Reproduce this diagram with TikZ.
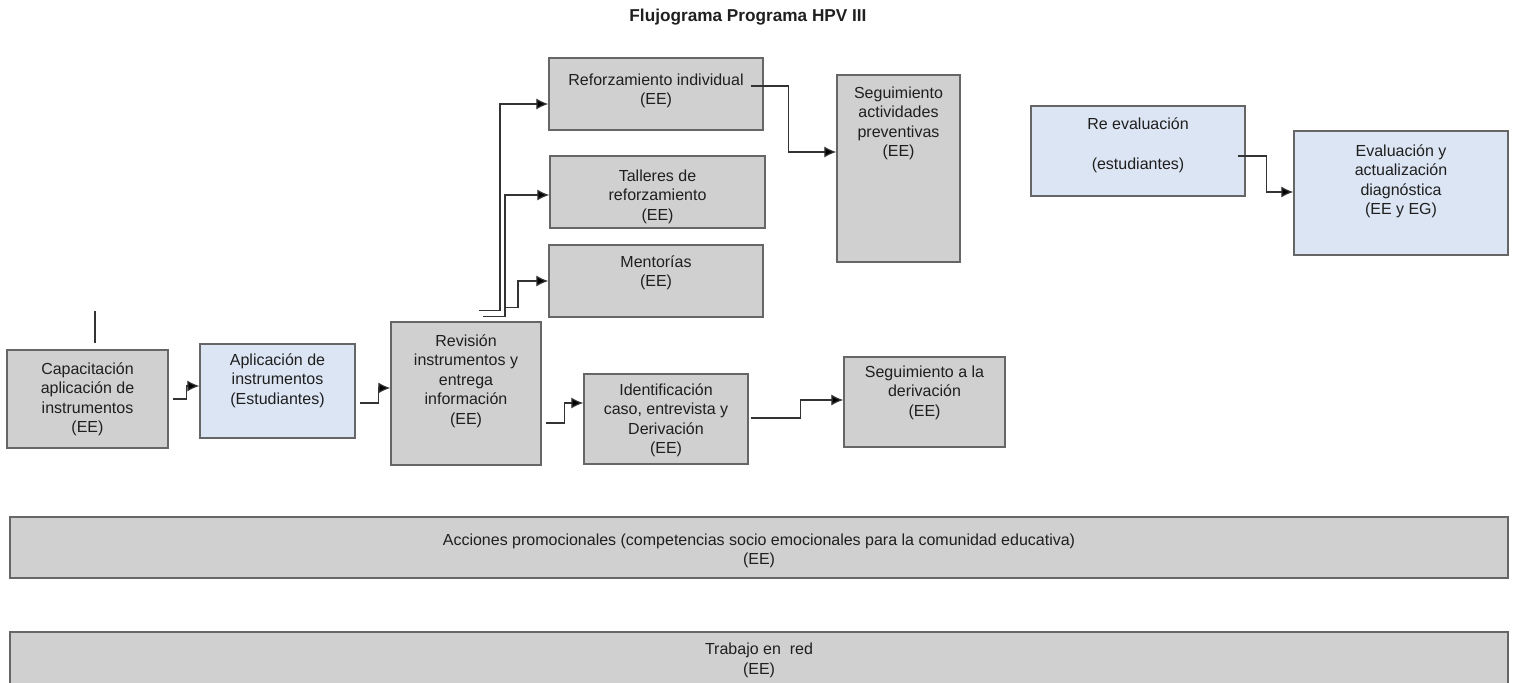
\documentclass[tikz,border=0pt]{standalone}
\usepackage{fontspec}
\setmainfont{Liberation Sans}
\usetikzlibrary{arrows.meta}
\definecolor{boxgray}{HTML}{D0D0D0}
\definecolor{boxblue}{HTML}{DCE5F3}
\definecolor{edgegray}{HTML}{666666}
\definecolor{linegray}{HTML}{333333}

\begin{document}
\begin{tikzpicture}[x=0.5pt,y=-0.5pt,
        gbox/.style={draw=edgegray,line width=0.7pt,fill=boxgray,inner sep=0pt},
        bbox/.style={gbox,fill=boxblue},
        txt/.style={anchor=north,align=center,inner sep=0pt,text=black!88,font=\fontsize{8}{9.75}\selectfont},
        arr/.style={draw=linegray,line width=0.6pt,-{Latex[length=6pt,width=5.5pt,fill=black]}}]
        \useasboundingbox (0,0) rectangle (1515,683);
        \node[font=\bfseries\fontsize{8.6}{10}\selectfont,text=black!88] (title) at (748,17) {Flujograma Programa HPV III};

        \node[gbox,minimum width=80.5pt,minimum height=49pt] (cap) at (87.5,399) {};
        \node[bbox,minimum width=77.5pt,minimum height=47pt] (apl) at (277.5,391) {};
        \node[gbox,minimum width=75pt,minimum height=71.5pt] (rev) at (466,393.5) {};
        \node[gbox,minimum width=107pt,minimum height=36pt] (ref) at (656,94) {};
        \node[gbox,minimum width=107.5pt,minimum height=36pt] (tal) at (657.5,192) {};
        \node[gbox,minimum width=107pt,minimum height=36pt] (men) at (656,281) {};
        \node[gbox,minimum width=61.5pt,minimum height=93.5pt] (segp) at (898.5,168.5) {};
        \node[bbox,minimum width=107pt,minimum height=45pt] (reev) at (1138,151) {};
        \node[bbox,minimum width=107pt,minimum height=62pt] (eval) at (1401,193) {};
        \node[gbox,minimum width=82pt,minimum height=45pt] (ident) at (666,419) {};
        \node[gbox,minimum width=80.5pt,minimum height=45pt] (segd) at (924.5,402) {};
        \node[gbox,minimum width=749pt,minimum height=30.5pt] (acc) at (759,547.5) {};
        \node[gbox,minimum width=749pt,minimum height=34pt] (trab) at (759,666) {};

        \node[txt] (capt) at ([yshift=-6.5pt]cap.north) {Capacitación\\aplicación de\\instrumentos\\(EE)};
        \node[txt] (aplt) at ([yshift=-5pt]apl.north) {Aplicación de\\instrumentos\\(Estudiantes)};
        \node[txt] (revt) at ([yshift=-6.5pt]rev.north) {Revisión\\instrumentos y\\entrega\\información\\(EE)};
        \node[txt] (reft) at ([yshift=-8pt]ref.north) {Reforzamiento individual\\(EE)};
        \node[txt] (talt) at ([yshift=-7pt]tal.north) {Talleres de\\reforzamiento\\(EE)};
        \node[txt] (ment) at ([yshift=-5.5pt]men.north) {Mentorías\\(EE)};
        \node[txt] (segpt) at ([yshift=-6pt]segp.north) {Seguimiento\\actividades\\preventivas\\(EE)};
        \node[txt] (reevt) at ([yshift=-6pt]reev.north) {Re evaluación\\[10.25pt](estudiantes)};
        \node[txt] (evalt) at ([yshift=-7pt]eval.north) {Evaluación y\\actualización\\diagnóstica\\(EE y EG)};
        \node[txt] (identt) at ([yshift=-5pt]ident.north) {Identificación\\caso, entrevista y\\Derivación\\(EE)};
        \node[txt] (segdt) at ([yshift=-4.5pt]segd.north) {Seguimiento a la\\derivación\\(EE)};
        \node[txt] (acct) at ([yshift=-8.5pt]acc.north) {Acciones promocionales (competencias socio emocionales para la comunidad educativa)\\(EE)};
        \node[txt] (trabt) at ([yshift=-5.75pt]trab.north) {Trabajo en~ red\\(EE)};

        \coordinate (capin) at (95,311);
        \draw[draw=linegray,line width=0.6pt] (capin) -- ++(0,32);

        \draw[arr] ([xshift=2pt]cap.east) -- ++(14,0) |- ([yshift=2.5pt]apl.west);
        \draw[arr] ([shift={(2pt,-6pt)}]apl.east) -- ++(19,0) |- ([yshift=2.75pt]rev.west);
        \draw[arr] ([shift={(6.5pt,5.5pt)}]rev.north) -- ++(21,0) |- ([yshift=-5pt]ref.west);
        \draw[arr] ([shift={(8.5pt,2.5pt)}]rev.north) -- ++(22,0) |- ([yshift=-1.5pt]tal.west);
        \draw[arr] ([shift={(19.5pt,7pt)}]rev.north) -- ++(13,0) |- (men.west);
        \draw[arr] ([shift={(-6.5pt,4pt)}]ref.east) -- ++(38,0) |- ([yshift=8.25pt]segp.west);
        \draw[arr] ([shift={(2pt,-14.75pt)}]rev.east) -- ++(19,0) |- ([yshift=8pt]ident.west);
        \draw[arr] ([shift={(1pt,0.5pt)}]ident.east) -- ++(50,0) |- ([yshift=1pt]segd.west);
        \draw[arr] ([shift={(-4pt,-2.5pt)}]reev.east) -- ++(29,0) |- ([yshift=0.5pt]eval.west);
\end{tikzpicture}
\end{document}
